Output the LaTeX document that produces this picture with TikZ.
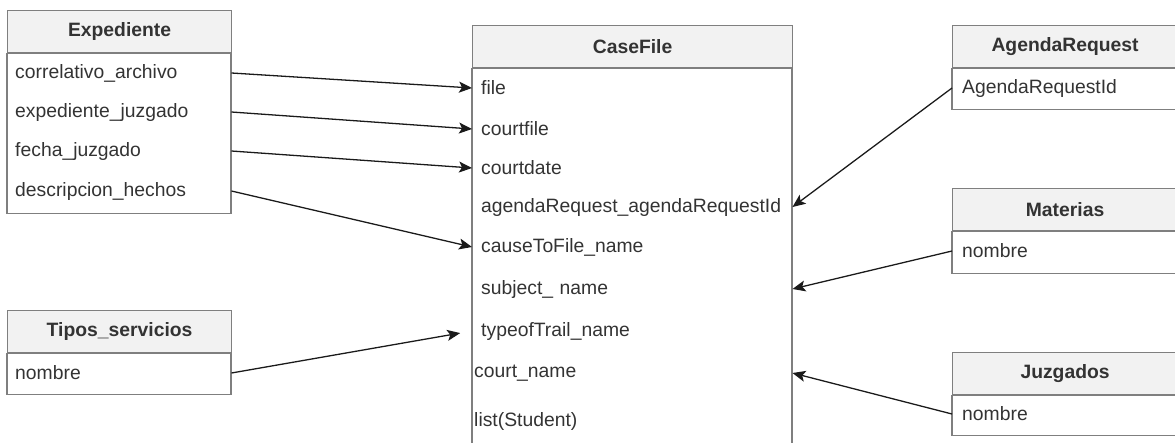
\documentclass[tikz,border=0pt]{standalone}
\usepackage{fontspec}
\setmainfont{Liberation Sans}
\usetikzlibrary{arrows.meta,positioning}

\definecolor{linegray}{HTML}{7F7F7F}
\definecolor{headfill}{HTML}{F2F2F2}
\definecolor{textgray}{HTML}{333333}
\definecolor{arrowblack}{HTML}{1A1A1A}
\def\pxu{0.03cm}
\newcommand{\diagfont}{\fontsize{16.5}{19}\selectfont}

\tikzset{
  header/.style={draw=linegray, fill=headfill, text=textgray, line width=1pt,
    font=\diagfont\bfseries, minimum width=#1, minimum height=42*\pxu, inner sep=0pt},
  boxline/.style={draw=linegray, line width=1pt},
  field/.style={anchor=west, text=textgray, font=\diagfont, text width=#1,
    align=left, inner xsep=8*\pxu, inner ysep=0pt},
  link/.style={draw=arrowblack, line width=1.1pt,
    -{Stealth[length=13*\pxu, width=11*\pxu, inset=3*\pxu]}}
}

\begin{document}
\begin{tikzpicture}[x=\pxu, y=-\pxu]
  \useasboundingbox (0,0) rectangle (1175,442);
  \clip (0,0) rectangle (1175,442);

  % tables on the left
  \node[header=224*\pxu, anchor=north west] (exp) at (7,10) {Expediente};
  \draw[boxline] (exp.south west) rectangle ++(224,160);
  \node[field=208*\pxu] (corr) at (7,73) {correlativo\_archivo};
  \node[field=208*\pxu] (expj) at (7,112) {expediente\_juzgado};
  \node[field=208*\pxu] (fecha) at (7,151) {fecha\_juzgado};
  \node[field=208*\pxu] (desc) at (7,191) {descripcion\_hechos};

  \node[header=224*\pxu, anchor=north west] (tipos) at (7,310) {Tipos\_servicios};
  \draw[boxline] (tipos.south west) rectangle ++(224,41);
  \node[field=208*\pxu] (tiponombre) at (7,373) {nombre};

  % main table
  \node[header=320*\pxu, anchor=north west] (case) at (472,25) {CaseFile};
  \draw[boxline] (case.south west) rectangle ++(320,400);
  \node[field=302*\pxu, inner xsep=9*\pxu] (file) at (472,88) {file};
  \node[field=302*\pxu, inner xsep=9*\pxu] (courtfile) at (472,129) {courtfile};
  \node[field=302*\pxu, inner xsep=9*\pxu] (courtdate) at (472,168) {courtdate};
  \node[field=302*\pxu, inner xsep=9*\pxu] (agreq) at (472,207) {agendaRequest\_agendaRequestId};
  \node[field=302*\pxu, inner xsep=9*\pxu] (cause) at (472,247) {causeToFile\_name};
  \node[field=302*\pxu, inner xsep=9*\pxu] (subject) at (472,289) {subject\_ name};
  \node[field=302*\pxu, inner xsep=9*\pxu] (typeof) at (472,331) {typeofTrail\_name};
  \node[field=316*\pxu, inner xsep=2*\pxu] (court) at (472,373) {court\_name};
  \node[field=316*\pxu, inner xsep=2*\pxu] (students) at (472,421) {list(Student)};

  % tables on the right
  \node[header=225*\pxu, anchor=north west] (agenda) at (952,25) {AgendaRequest};
  \draw[boxline] (agenda.south west) rectangle ++(225,41);
  \node[field=205*\pxu, inner xsep=10*\pxu] (agid) at (952,88) {AgendaRequestId};

  \node[header=225*\pxu, anchor=north west] (materias) at (952,188) {Materias};
  \draw[boxline] (materias.south west) rectangle ++(225,42);
  \node[field=205*\pxu, inner xsep=10*\pxu] (matnombre) at (952,251) {nombre};

  \node[header=225*\pxu, anchor=north west] (juzgados) at (952,352) {Juzgados};
  \draw[boxline] (juzgados.south west) rectangle ++(225,40);
  \node[field=205*\pxu, inner xsep=10*\pxu] (juznombre) at (952,414) {nombre};

  % connectors
  \draw[link] (corr.east) -- (file.west);
  \draw[link] (expj.east) -- (courtfile.west);
  \draw[link] (fecha.east) -- (courtdate.west);
  \draw[link] (desc.east) -- (cause.west);
  \draw[link, shorten >=12*\pxu] (tiponombre.east) -- (typeof.west);
  \draw[link] (agid.west) -- (agreq.east);
  \draw[link] (matnombre.west) -- (subject.east);
  \draw[link] (juznombre.west) -- (court.east);
\end{tikzpicture}
\end{document}
